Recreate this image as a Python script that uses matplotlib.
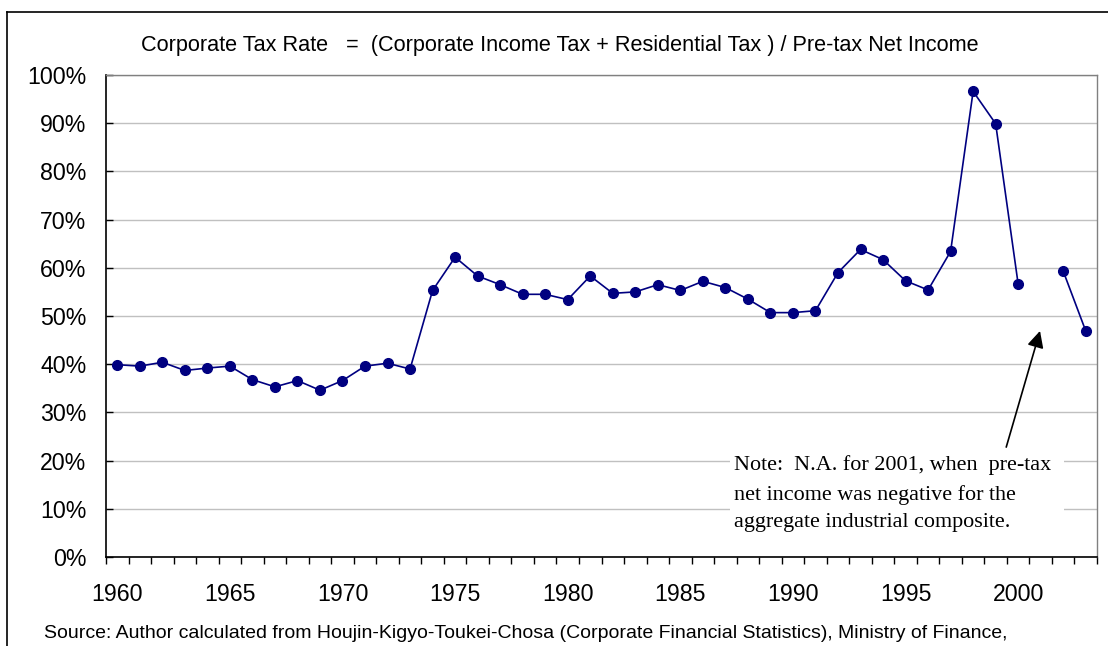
import numpy as np
import matplotlib
matplotlib.use("Agg")
import matplotlib.pyplot as plt
from matplotlib.lines import Line2D
from matplotlib.patches import Rectangle
from matplotlib.ticker import FixedLocator, FuncFormatter

years = list(range(1960, 2004))
tax_rate = [39.9, 39.6, 40.4, 38.7, 39.2, 39.6, 36.8, 35.3, 36.6, 34.6,
            36.6, 39.6, 40.2, 39.0, 55.3, 62.2, 58.3, 56.5, 54.5, 54.5,
            53.4, 58.3, 54.7, 55.0, 56.5, 55.3, 57.2, 55.9, 53.5, 50.7,
            50.7, 51.1, 59.0, 63.8, 61.7, 57.3, 55.4, 63.4, 96.6, 89.9,
            56.6, np.nan, 59.3, 46.9]
ytick_values = [0, 10, 20, 30, 40, 50, 60, 70, 80, 90, 100]
xtick_labels = [1960, 1965, 1970, 1975, 1980, 1985, 1990, 1995, 2000]

title = "Corporate Tax Rate   =  (Corporate Income Tax + Residential Tax ) / Pre-tax Net Income"
note = "Note:  N.A. for 2001, when  pre-tax\nnet income was negative for the\naggregate industrial composite."
source = "Source: Author calculated from Houjin-Kigyo-Toukei-Chosa (Corporate Financial Statistics), Ministry of Finance,"

plt.rcParams['font.family'] = ['Liberation Sans', 'DejaVu Sans']

W, H = 1108, 646
fig = plt.figure(figsize=(W / 100, H / 100), dpi=100)
ax = fig.add_axes([106 / W, 1 - 557 / H, (1097 - 106) / W, (557 - 75) / H])

ax.plot(years, tax_rate, color='#000080', linewidth=1.2, marker='o',
        markersize=7, markerfacecolor='#000080', markeredgecolor='#000080', zorder=5)

ax.set_xlim(years[0] - 0.5, years[-1] + 0.5)
ax.set_ylim(0, 100)
ax.yaxis.set_major_locator(FixedLocator(ytick_values))
ax.yaxis.set_major_formatter(FuncFormatter(lambda v, p: f"{int(v)}%"))
ax.xaxis.set_major_locator(FixedLocator(xtick_labels))
ax.xaxis.set_minor_locator(FixedLocator([y - 0.5 for y in years] + [years[-1] + 0.5]))
ax.tick_params(axis='x', which='major', length=0, labelsize=16.7, pad=19, colors='black')
ax.tick_params(axis='x', which='minor', length=5, width=1, direction='out', color='black')
ax.tick_params(axis='y', which='major', length=5, width=1, direction='in', labelsize=16.7, pad=14)

ax.grid(axis='y', color='#c0c0c0', linewidth=1)
ax.set_axisbelow(True)
for side in ['top', 'right']:
    ax.spines[side].set_color('#808080')
    ax.spines[side].set_linewidth(1)
for side in ['left', 'bottom']:
    ax.spines[side].set_color('black')
    ax.spines[side].set_linewidth(1.2)

fig.text(560 / W, 1 - 45 / H, title, ha='center', va='center', fontsize=15.6)
fig.text(44 / W, 1 - 633 / H, source, ha='left', va='center', fontsize=14)

# white note box covering the gridlines
ax.add_patch(Rectangle((1987.2, 3.5), 14.85, 17.7, facecolor='white',
                       edgecolor='none', zorder=3))
ax.annotate('', xy=(2000.97, 46.9), xytext=(1999.47, 22.8),
            arrowprops=dict(arrowstyle='-|>', color='black', lw=1.2,
                            mutation_scale=25, shrinkA=0, shrinkB=0), zorder=6)
ax.text(1987.4, 13.1, note, ha='left', va='center', fontsize=15.9,
        family=['Liberation Serif', 'DejaVu Serif'], linespacing=1.62, zorder=4)

fig.add_artist(Line2D([7 / W, 7 / W], [0, 1 - 12 / H], transform=fig.transFigure,
                      color='black', linewidth=1.2))
fig.add_artist(Line2D([7 / W, 1], [1 - 12 / H, 1 - 12 / H], transform=fig.transFigure,
                      color='black', linewidth=1.2))

fig.savefig('out.png', dpi=100)
